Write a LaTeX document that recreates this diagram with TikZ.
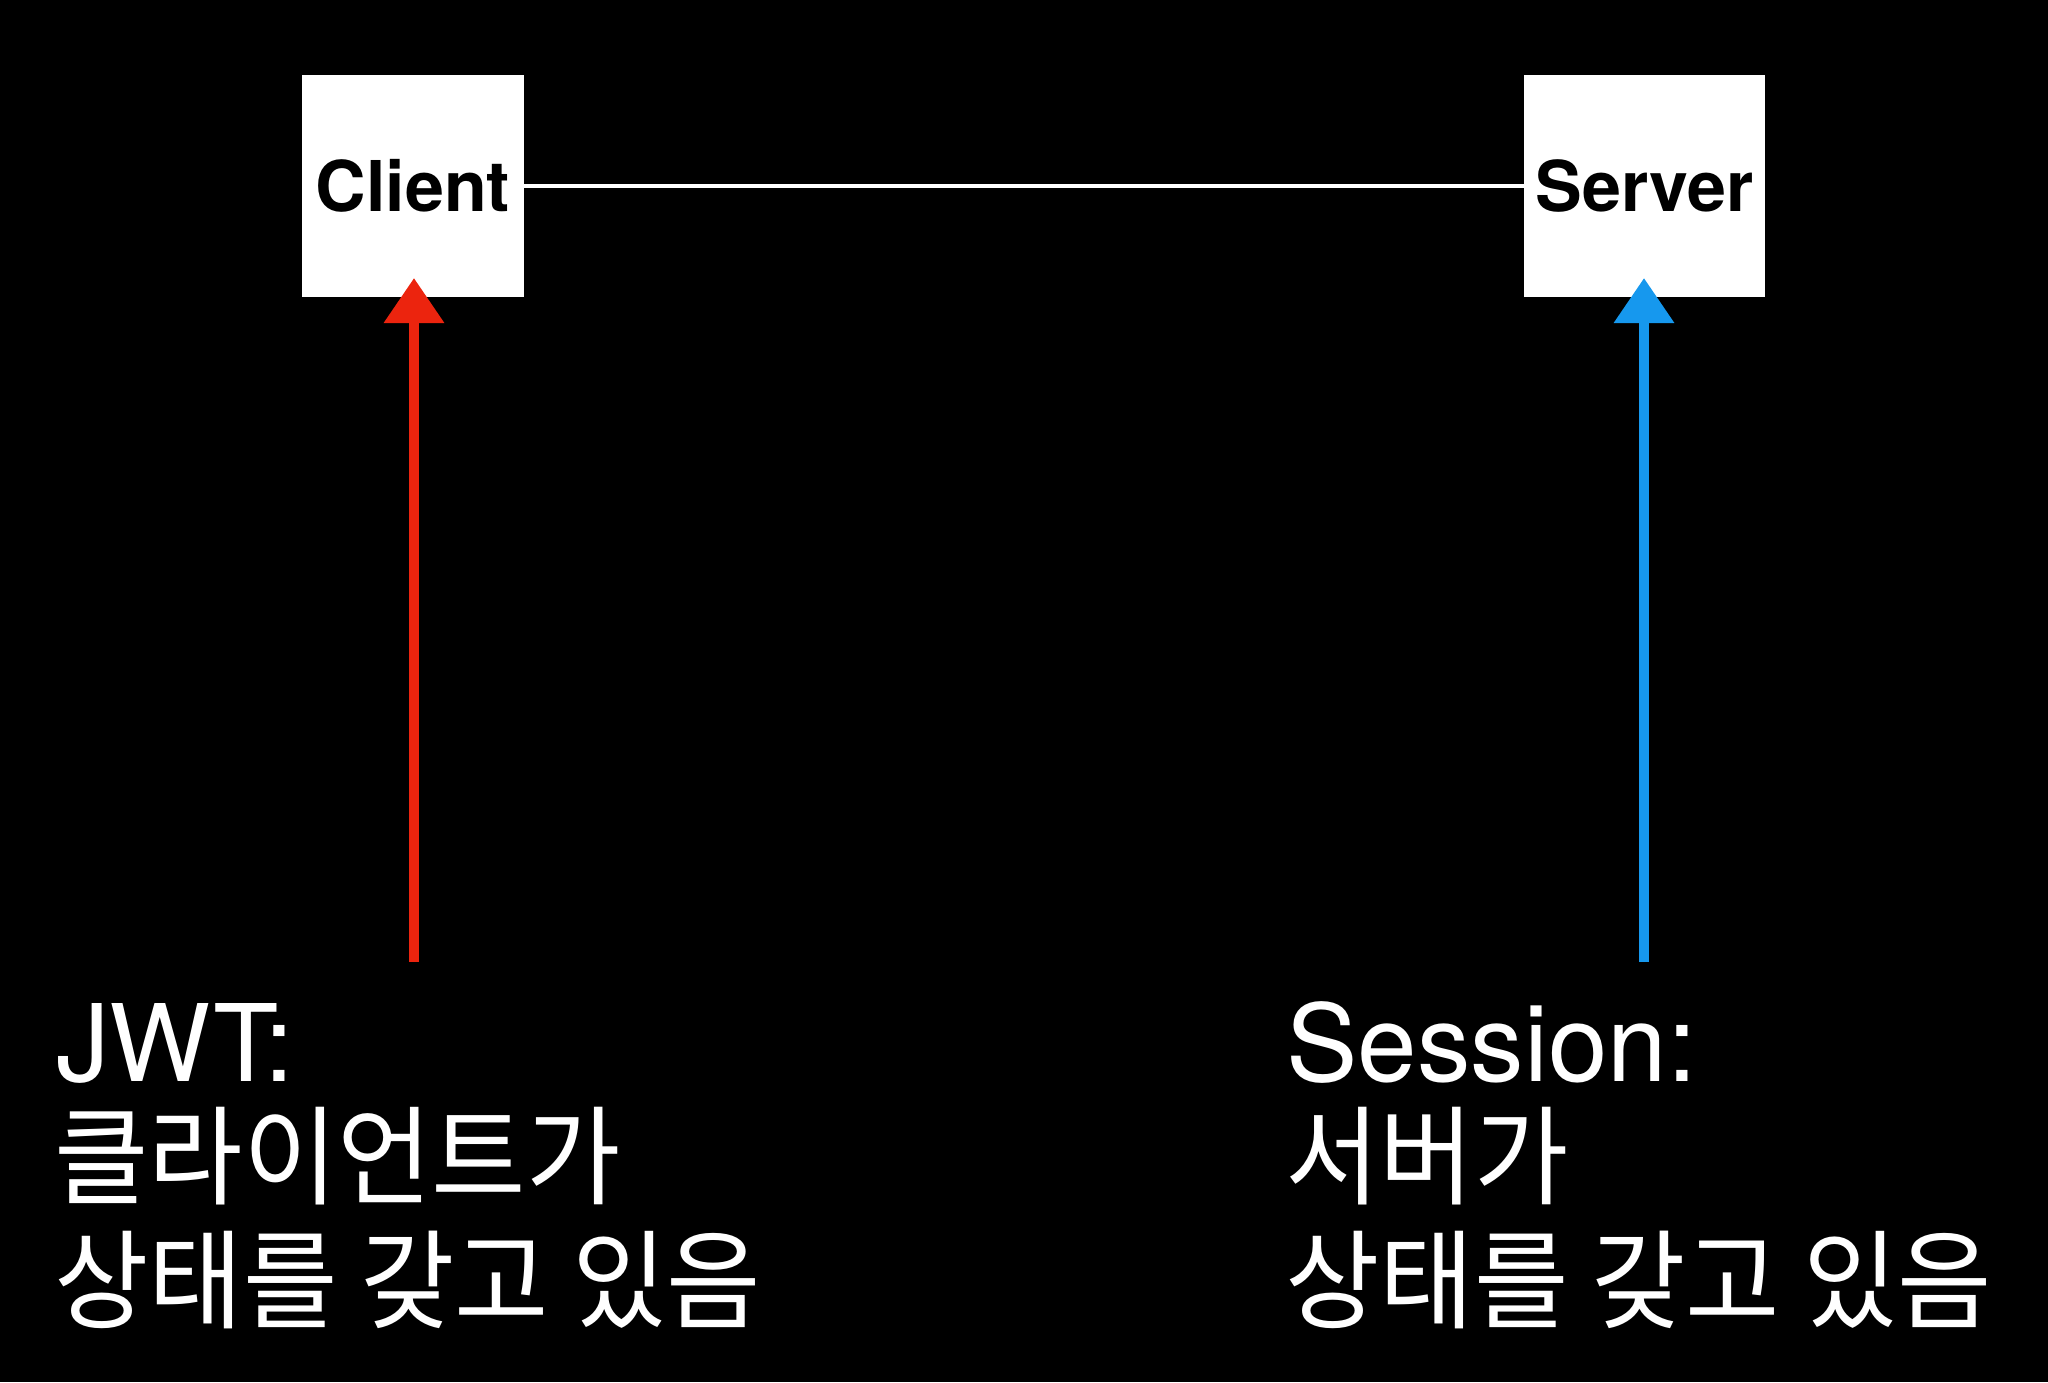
\documentclass[tikz,border=0pt]{standalone}
\usepackage{fontspec}
\setmainfont{TeX Gyre Heros}
\newfontfamily\latlab{TeX Gyre Heros}
\newfontfamily\krlab[FakeStretch=0.95]{Noto Sans CJK KR}
\usetikzlibrary{arrows.meta}
\definecolor{jwtred}{RGB}{236,36,14}
\definecolor{sesblue}{RGB}{22,152,238}
\begin{document}
\begin{tikzpicture}[x=0.5pt,y=-0.5pt,
  box/.style={fill=white,draw=none,inner sep=0pt,font=\fontsize{35pt}{42pt}\selectfont\bfseries,text=black},
  link/.style={draw=white,line width=1.75pt},
  crayon/.style={line width=5pt,-{Triangle[width=29pt,length=22.5pt]}},
  latline/.style={anchor=base west,inner sep=0pt,text=white,font=\latlab\fontsize{53.5pt}{60pt}\selectfont},
  krline/.style={anchor=base west,inner sep=0pt,text=white,font=\krlab\fontsize{54pt}{60pt}\selectfont}]
\fill[black] (0,0) rectangle (2048,1382);
\useasboundingbox (0,0) rectangle (2048,1382);
\node[box,minimum width=111pt,minimum height=111pt] (client) at (413,186) {Client};
\node[box,minimum width=120.5pt,minimum height=111pt] (server) at (1644.5,186) {Server};
\draw[link] (client.east) -- (server.west);
\coordinate (jwtfoot) at (414,962);
\coordinate (jwttip) at (414,278);
\coordinate (sesfoot) at (1644,962);
\coordinate (sestip) at (1644,278);
\draw[crayon,draw=jwtred,fill=jwtred] (jwtfoot) -- (jwttip);
\draw[crayon,draw=sesblue,fill=sesblue] (sesfoot) -- (sestip);
\node[latline] (jwt1) at (56,1081) {JWT:};
\node[krline] (jwt2) at (54,1196) {클라이언트가};
\node[krline] (jwt3) at (54,1320) {상태를 갖고 있음};
\node[latline] (ses1) at (1286,1081) {Session:};
\node[krline] (ses2) at (1285,1196) {서버가};
\node[krline] (ses3) at (1285,1320) {상태를 갖고 있음};
\end{tikzpicture}
\end{document}
